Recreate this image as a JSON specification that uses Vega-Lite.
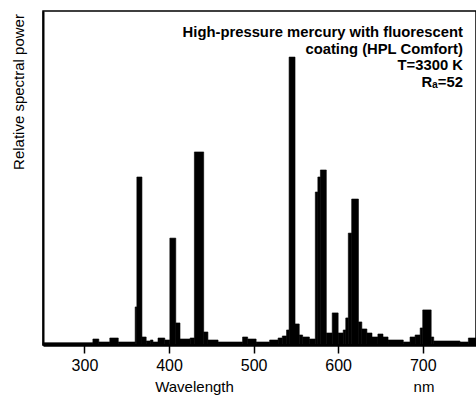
{
  "$schema": "https://vega.github.io/schema/vega-lite/v6.json",
  "width": 433,
  "height": 334,
  "autosize": {"type": "none"},
  "padding": {"left": 43, "top": 11, "right": 0, "bottom": 50},
  "background": "white",
  "config": {
    "view": {"stroke": "black", "strokeWidth": 1.5},
    "font": "Liberation Sans"
  },
  "layer": [
    {
      "data": {
        "values": [
          {"from": 251, "to": 310, "power": 0.7},
          {"from": 310, "to": 317, "power": 1.8},
          {"from": 317, "to": 330, "power": 0.9},
          {"from": 330, "to": 340, "power": 2.1},
          {"from": 340, "to": 360, "power": 0.9},
          {"from": 360, "to": 362, "power": 11.4},
          {"from": 362, "to": 368, "power": 50.3},
          {"from": 368, "to": 373, "power": 2.4},
          {"from": 373, "to": 378, "power": 1.2},
          {"from": 378, "to": 381, "power": 1.5},
          {"from": 381, "to": 387, "power": 0.9},
          {"from": 387, "to": 395, "power": 2.1},
          {"from": 395, "to": 401, "power": 1.5},
          {"from": 401, "to": 408, "power": 32.0},
          {"from": 408, "to": 413, "power": 6.6},
          {"from": 413, "to": 425, "power": 1.8},
          {"from": 425, "to": 430, "power": 2.1},
          {"from": 430, "to": 441, "power": 57.8},
          {"from": 441, "to": 446, "power": 3.9},
          {"from": 446, "to": 458, "power": 1.5},
          {"from": 458, "to": 487, "power": 0.9},
          {"from": 487, "to": 493, "power": 2.4},
          {"from": 493, "to": 503, "power": 1.8},
          {"from": 503, "to": 519, "power": 0.9},
          {"from": 519, "to": 529, "power": 1.5},
          {"from": 529, "to": 534, "power": 2.1},
          {"from": 534, "to": 539, "power": 2.7},
          {"from": 539, "to": 542, "power": 4.5},
          {"from": 542, "to": 549, "power": 86.2},
          {"from": 549, "to": 554, "power": 6.3},
          {"from": 554, "to": 558, "power": 3.0},
          {"from": 558, "to": 566, "power": 2.4},
          {"from": 566, "to": 573, "power": 1.8},
          {"from": 573, "to": 576, "power": 45.8},
          {"from": 576, "to": 579, "power": 50.3},
          {"from": 579, "to": 586, "power": 52.4},
          {"from": 586, "to": 593, "power": 3.6},
          {"from": 593, "to": 600, "power": 9.6},
          {"from": 600, "to": 606, "power": 3.6},
          {"from": 606, "to": 609, "power": 4.5},
          {"from": 609, "to": 612, "power": 8.1},
          {"from": 612, "to": 616, "power": 33.5},
          {"from": 616, "to": 624, "power": 43.7},
          {"from": 624, "to": 628, "power": 6.9},
          {"from": 628, "to": 634, "power": 4.8},
          {"from": 634, "to": 640, "power": 3.6},
          {"from": 640, "to": 647, "power": 2.4},
          {"from": 647, "to": 653, "power": 3.3},
          {"from": 653, "to": 659, "power": 2.4},
          {"from": 659, "to": 677, "power": 1.5},
          {"from": 677, "to": 685, "power": 0.9},
          {"from": 685, "to": 691, "power": 2.4},
          {"from": 691, "to": 697, "power": 3.0},
          {"from": 697, "to": 700, "power": 5.1},
          {"from": 700, "to": 710, "power": 10.5},
          {"from": 710, "to": 713, "power": 2.4},
          {"from": 713, "to": 744, "power": 1.2},
          {"from": 744, "to": 754, "power": 0.9},
          {"from": 754, "to": 763, "power": 2.1}
        ]
      },
      "mark": {"type": "rect", "color": "black", "stroke": "black", "strokeWidth": 0.6},
      "encoding": {
        "x": {
          "field": "from",
          "type": "quantitative",
          "scale": {"domain": [251, 763], "nice": false, "zero": false},
          "axis": {
            "values": [300, 400, 500, 600, 700],
            "title": "Wavelength",
            "grid": false,
            "domainColor": "black",
            "domainWidth": 2.5,
            "tickColor": "black",
            "tickSize": 8,
            "tickWidth": 1.5,
            "labelFontSize": 16,
            "labelColor": "black",
            "labelPadding": 4,
            "labelFlush": false,
            "titleFontSize": 15,
            "titleFontWeight": "normal",
            "titleColor": "black",
            "titleX": 151,
            "titleY": 46,
            "titleAlign": "center",
            "titleBaseline": "alphabetic"
          }
        },
        "x2": {"field": "to"},
        "y": {
          "field": "power",
          "type": "quantitative",
          "scale": {"domain": [0, 100], "nice": false},
          "axis": {
            "title": "Relative spectral power",
            "ticks": false,
            "labels": false,
            "grid": false,
            "domainColor": "black",
            "domainWidth": 2,
            "titleFontSize": 15,
            "titleFontWeight": "normal",
            "titleColor": "black",
            "titleAngle": -90,
            "titleX": -25,
            "titleY": 80.5,
            "titleAlign": "center",
            "titleBaseline": "middle"
          }
        },
        "y2": {"datum": 0}
      }
    },
    {
      "data": {"values": [{}]},
      "mark": {
        "type": "text",
        "text": ["High-pressure mercury with fluorescent", "coating (HPL Comfort)", "T=3300 K", "Rₐ=52"],
        "align": "right",
        "baseline": "alphabetic",
        "fontSize": 14.8,
        "fontWeight": "bold",
        "lineHeight": 16.7,
        "color": "black"
      },
      "encoding": {"x": {"datum": 747.6}, "y": {"datum": 92.2}}
    },
    {
      "data": {"values": [{}]},
      "mark": {"type": "text", "text": "nm", "align": "center", "baseline": "alphabetic", "fontSize": 15, "color": "black"},
      "encoding": {"x": {"datum": 701.5}, "y": {"datum": -14.1}}
    }
  ]
}
